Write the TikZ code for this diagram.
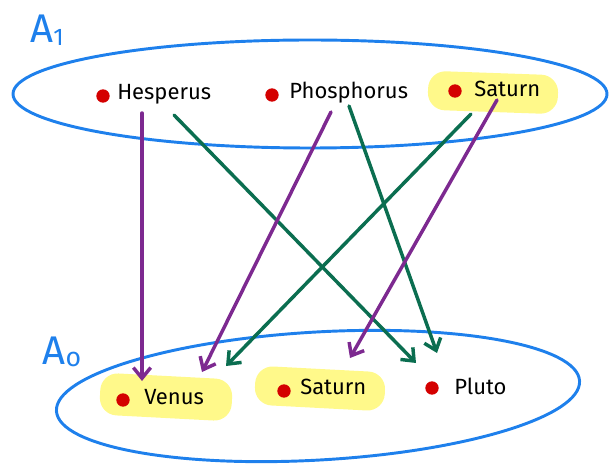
\documentclass[tikz,border=0pt]{standalone}
\usepackage{fontspec}
\setmainfont{Fira Sans}
\usetikzlibrary{arrows.meta,calc}
\definecolor{setblue}{HTML}{1E80EC}
\definecolor{arrpurple}{HTML}{7D2990}
\definecolor{arrgreen}{HTML}{0B6E50}
\definecolor{dotred}{HTML}{D40000}
\definecolor{hl}{HTML}{FFF98A}
\tikzset{
  setell/.style={draw=setblue, line width=2.2pt},
  dotpt/.style={circle, fill=dotred, inner sep=0pt, minimum size=10pt},
  word/.style={anchor=west, inner sep=0pt, font=\fontsize{16.5}{18}\selectfont},
  setlab/.style={text=setblue, inner sep=0pt, font=\fontsize{30}{30}\selectfont},
  highlight/.style={fill=hl, rounded corners=13pt, draw=none},
  parr/.style={draw=arrpurple, line width=2.6pt, line cap=round, -{Straight Barb[length=8pt,width=13pt,line width=2.6pt]}},
  garr/.style={draw=arrgreen, line width=2.6pt, line cap=round, -{Straight Barb[length=8pt,width=13pt,line width=2.6pt]}},
}
\begin{document}
\begin{tikzpicture}[x=0.75pt,y=-0.75pt]
\useasboundingbox (0,0) rectangle (616,466);
% highlights
\path[highlight, rotate around={-2:(493,92)}] (428,73) rectangle (558,112);
\path[highlight, rotate around={-3:(166,397)}] (100,376) rectangle (232,418);
\path[highlight, rotate around={-3:(320,388)}] (255,369) rectangle (385,408);
% sets
\draw[setell] (310,94) ellipse [x radius=297, y radius=54];
\draw[setell, rotate around={3.3:(318,396)}] (318,396) ellipse [x radius=262, y radius=64];
\node[setlab] (a1) at (47,30) {A\raisebox{-2pt}{\fontsize{18}{18}\selectfont 1}};
\node[setlab] (a0) at (62,352) {A\raisebox{-2pt}{\fontsize{20}{20}\selectfont o}};
% top elements
\node[dotpt] (d1) at (103,96) {};
\node[word] (hesp) at (117,94) {Hesperus};
\node[dotpt] (d2) at (272,95) {};
\node[word] (phos) at (289,93) {Phosphorus};
\node[dotpt] (d3) at (455,91) {};
\node[word] (sat1) at (474,89) {Saturn};
% bottom elements
\node[dotpt] (d4) at (123,400) {};
\node[word] (venus) at (144,397) {Venus};
\node[dotpt] (d5) at (284,391) {};
\node[word] (sat0) at (300,387) {Saturn};
\node[dotpt] (d6) at (432,388) {};
\node[word] (pluto) at (454,386) {Pluto};
% arrow endpoints
\coordinate (hs1) at (142,113);
\coordinate (hs2) at (174,115);
\coordinate (ps1) at (331,112);
\coordinate (ps2) at (349,106);
\coordinate (ss1) at (471,114);
\coordinate (ss2) at (497,100);
\coordinate (ve1) at (142,381);
\coordinate (ve2) at (202,372);
\coordinate (ve3) at (226,366);
\coordinate (sa2) at (350,358);
\coordinate (pl1) at (416,363);
\coordinate (pl2) at (437,353);
% arrows
\draw[parr] (hs1) -- (ve1);
\draw[garr] (hs2) -- (pl1);
\draw[parr] (ps1) -- (ve2);
\draw[garr] (ps2) -- (pl2);
\draw[garr] (ss1) -- (ve3);
\draw[parr] (ss2) -- (sa2);
\end{tikzpicture}
\end{document}
